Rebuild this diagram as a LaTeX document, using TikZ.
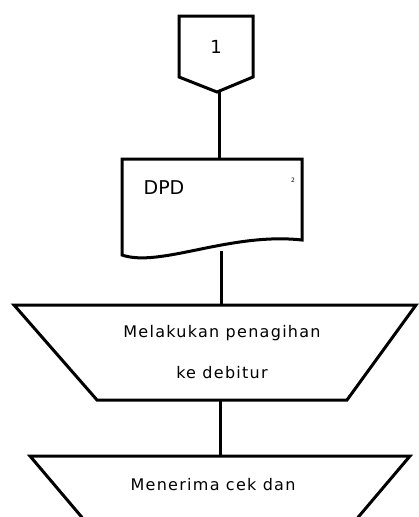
\documentclass[tikz,border=0pt]{standalone}
\usepackage{fontspec}
\setmainfont{DejaVu Sans}
\newfontfamily\labelfont[LetterSpace=8]{DejaVu Sans}
\begin{document}
\begin{tikzpicture}[x=1pt,y=-1pt,
  shapeline/.style={draw=black,line width=3pt,line join=miter,fill=white},
  conn/.style={draw=black,line width=3pt},
  lbl/.style={font=\labelfont\fontsize{16}{18}\selectfont,inner sep=0pt,anchor=center}]
\useasboundingbox (0,0) rectangle (418,517);

% off-page connector
\draw[shapeline] (179,16) -- (253,16) -- (253,77) -- (217,92) -- (179,77) -- cycle;
\coordinate (off-bot) at (219,91);
\node[lbl,font=\fontsize{18}{20}\selectfont] (offtxt) at (216,47) {1};

% document
\draw[shapeline] (122,255) -- (122,159) -- (302,159) -- (302,240)
  .. controls (230,232) and (160,268) .. (122,255) -- cycle;
\coordinate (doc-top) at (219,160);
\coordinate (doc-bot) at (221,251);
\node[lbl,font=\fontsize{19}{21}\selectfont] (doctxt) at (164,188) {DPD};
\node[lbl,font=\fontsize{6}{7}\selectfont] (docno) at (293,180) {2};

% manual operation 1
\draw[shapeline] (14,305) -- (416,305) -- (347,400) -- (97,400) -- cycle;
\coordinate (op1-top) at (221,306);
\coordinate (op1-bot) at (220,399);
\node[lbl] (op1a) at (222,333) {Melakukan penagihan};
\node[lbl] (op1b) at (222,373) {ke debitur};

% manual operation 2
\draw[shapeline] (30,456) -- (410,456) -- (338,541) -- (102,541) -- cycle;
\coordinate (op2-top) at (220,457);
\node[lbl] (op2a) at (213,485) {Menerima cek dan};
\node[lbl] (op2b) at (213,525) {kwitansi debitur};

% connectors
\draw[conn] (off-bot) -- (doc-top);
\draw[conn] (doc-bot) -- (op1-top);
\draw[conn] (op1-bot) -- (op2-top);
\end{tikzpicture}
\end{document}
